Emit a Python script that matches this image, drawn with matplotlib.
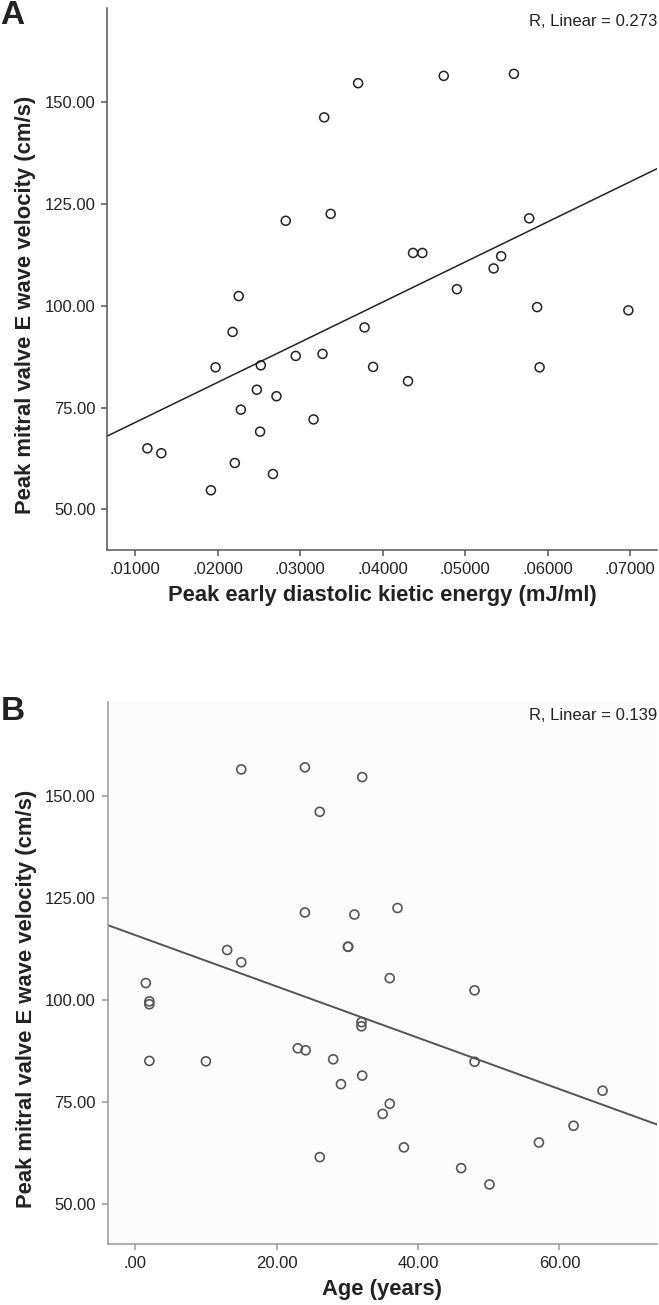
import numpy as np
import matplotlib
matplotlib.use("Agg")
import matplotlib.pyplot as plt

plt.rcParams['font.family'] = ['Liberation Sans', 'DejaVu Sans']

# ---------------- Data ----------------
# Panel A: peak early diastolic kinetic energy (mJ/ml) vs peak mitral E velocity (cm/s)
ke_A = [0.03704, 0.04742, 0.05593, 0.03293, 0.02827, 0.03372, 0.04370, 0.04483,
        0.05438, 0.05347, 0.05778, 0.04902, 0.02257, 0.05874, 0.06980, 0.02183,
        0.03782, 0.01976, 0.02525, 0.02948, 0.03273, 0.03886, 0.04309, 0.05904,
        0.02477, 0.02715, 0.02283, 0.03164, 0.02516, 0.01150, 0.01319, 0.02210,
        0.02672, 0.01920]
ev_A = [154.7, 156.5, 157.0, 146.3, 120.9, 122.6, 113.0, 113.0,
        112.2, 109.2, 121.5, 104.1, 102.4, 99.7, 98.9, 93.6,
        94.7, 84.9, 85.4, 87.7, 88.2, 85.0, 81.5, 84.9,
        79.4, 77.8, 74.5, 72.1, 69.1, 65.0, 63.8, 61.4,
        58.7, 54.7]

# Panel B: age (years) vs peak mitral E velocity (cm/s)
age_B = [15.0, 24.0, 32.1, 26.1, 24.0, 31.0, 37.1, 30.1, 30.1, 13.0, 15.0, 36.0,
         1.5, 48.0, 2.0, 2.0, 32.0, 32.0, 23.0, 24.1, 2.0, 10.0, 28.0, 48.0,
         32.1, 29.1, 66.1, 36.0, 35.0, 62.0, 57.1, 38.0, 26.1, 46.1, 50.1]
ev_B = [156.5, 157.0, 154.6, 146.1, 121.4, 120.9, 122.5, 113.0, 113.0, 112.2, 109.2, 105.3,
        104.1, 102.3, 99.6, 98.9, 94.5, 93.5, 88.1, 87.6, 85.0, 84.9, 85.4, 84.8,
        81.4, 79.3, 77.7, 74.5, 72.0, 69.1, 65.0, 63.8, 61.4, 58.7, 54.7]

r_text_A = "R, Linear = 0.273"
r_text_B = "R, Linear = 0.139"
ylabel = "Peak mitral valve E wave velocity (cm/s)"
xlabel_A = "Peak early diastolic kietic energy (mJ/ml)"
xlabel_B = "Age (years)"
yticks = [50, 75, 100, 125, 150]
xticks_A = [0.01, 0.02, 0.03, 0.04, 0.05, 0.06, 0.07]
xticks_B = [0, 20, 40, 60]

# ---------------- Figure ----------------
W, H = 659, 1305
fig = plt.figure(figsize=(W / 100, H / 100), dpi=100)

def px_axes(l, t, r, b):
    return [l / W, 1 - b / H, (r - l) / W, (b - t) / H]

axA = fig.add_axes(px_axes(107.3, 8.3, 657, 549.7))
axB = fig.add_axes(px_axes(107.5, 701.7, 657, 1244))

LABEL_FS = 15.8

def style(ax, spine_col, face):
    ax.set_facecolor(face)
    for s in ['top', 'right']:
        ax.spines[s].set_visible(False)
    for s in ['left', 'bottom']:
        ax.spines[s].set_color(spine_col)
        ax.spines[s].set_linewidth(1.1)
    ax.tick_params(axis='both', direction='out', length=4.5, width=1.1,
                   color=spine_col, labelsize=12, labelcolor='#222222')
    ax.tick_params(axis='x', pad=4.5)
    ax.tick_params(axis='y', pad=4)
    ax.set_yticks(yticks)
    ax.set_yticklabels([f"{v:.2f}" for v in yticks])
    ax.set_ylim(40.1, 173.1)
    ax.set_ylabel(ylabel, fontsize=LABEL_FS, fontweight='bold', color='#222222')
    ax.yaxis.set_label_coords(-0.148, 0.452)
    ax.yaxis.label.set_va('center')

# Panel A
style(axA, '#555555', 'white')
axA.scatter(ke_A, ev_A, s=42, facecolors='none', edgecolors='#222222', linewidths=1.1, zorder=3)
xa0, xa1 = 0.006642, 0.07327
axA.set_xlim(xa0, xa1)
cA = np.polyfit(ke_A, ev_A, 1)
xsA = np.array([xa0, xa1])
axA.plot(xsA, np.polyval(cA, xsA), color='#222222', lw=1.1, zorder=2)
axA.set_xticks(xticks_A)
axA.set_xticklabels([f"{v:.5f}"[1:] for v in xticks_A])
axA.set_xlabel(xlabel_A, fontsize=LABEL_FS, fontweight='bold', color='#222222')
axA.xaxis.set_label_coords(0.5, -0.0855)
axA.xaxis.label.set_va('center')
axA.text(1.0, 0.975, r_text_A, transform=axA.transAxes, ha='right', va='center',
         fontsize=12, color='#222222')
fig.text(0 / W, 1 - 16 / H, "A", fontsize=24, fontweight='bold', ha='left', va='center', color='#222222')

# Panel B
style(axB, '#999999', '#fcfcfc')
axB.scatter(age_B, ev_B, s=42, facecolors='none', edgecolors='#555555', linewidths=1.2, zorder=3)
xb0, xb1 = -3.92, 73.8
axB.set_xlim(xb0, xb1)
cB = np.polyfit(age_B, ev_B, 1)
xsB = np.array([xb0, xb1])
axB.plot(xsB, np.polyval(cB, xsB), color='#555555', lw=1.4, zorder=2)
axB.set_xticks(xticks_B)
axB.set_xticklabels([f"{v:.2f}" if v else ".00" for v in xticks_B])
axB.set_xlabel(xlabel_B, fontsize=LABEL_FS, fontweight='bold', color='#222222')
axB.xaxis.set_label_coords(0.5, -0.0848)
axB.xaxis.label.set_va('center')
axB.text(1.0, 0.975, r_text_B, transform=axB.transAxes, ha='right', va='center',
         fontsize=12, color='#222222')
fig.text(1 / W, 1 - 711 / H, "B", fontsize=24, fontweight='bold', ha='left', va='center', color='#222222')

fig.savefig("out.png", dpi=100)
